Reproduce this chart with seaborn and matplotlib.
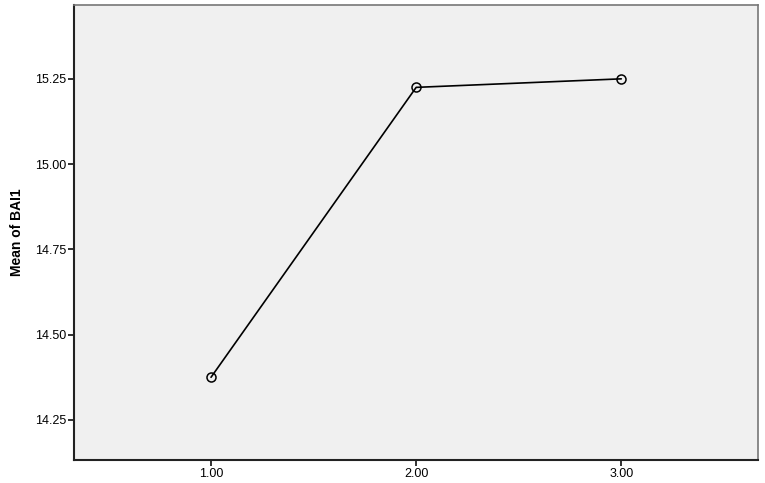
import numpy as np
import pandas as pd
import matplotlib
matplotlib.use("Agg")
import matplotlib.pyplot as plt
import seaborn as sns

groups = [1.0, 2.0, 3.0]
means = [14.375, 15.225, 15.25]
yticks = [14.25, 14.50, 14.75, 15.00, 15.25]
xticks = [1.0, 2.0, 3.0]

df = pd.DataFrame({"group": groups, "mean": means})

sns.set_theme(style="white")
plt.rcParams["font.family"] = ["Liberation Sans", "DejaVu Sans"]

fig, ax = plt.subplots(figsize=(7.65, 4.83), dpi=100)
fig.subplots_adjust(left=0.097, right=0.991, top=0.99, bottom=0.048)
ax.set_facecolor("#f0f0f0")

sns.lineplot(data=df, x="group", y="mean", ax=ax, color="black", lw=1.2,
             marker="o", markersize=6.5, markerfacecolor="none",
             markeredgecolor="black", markeredgewidth=1.1)

ax.set_xlim(0.333, 3.667)
ax.set_ylim(14.133, 15.467)
ax.set_xticks(xticks)
ax.set_xticklabels([f"{v:.2f}" for v in xticks], fontsize=9, color="black")
ax.set_yticks(yticks)
ax.set_yticklabels([f"{v:.2f}" for v in yticks], fontsize=9, color="black")
ax.tick_params(axis="both", direction="out", length=4, width=1.3,
               color="#222222", pad=2, left=True, bottom=True)
ax.set_xlabel("")
ax.set_ylabel("Mean of BAI1", fontsize=10, fontweight="bold", labelpad=8,
              color="black")

for side in ["left", "bottom"]:
    ax.spines[side].set_color("#222222")
    ax.spines[side].set_linewidth(1.5)
for side in ["top", "right"]:
    ax.spines[side].set_color("#777777")
    ax.spines[side].set_linewidth(1.2)

plt.savefig("out.png", dpi=100)
plt.close()
